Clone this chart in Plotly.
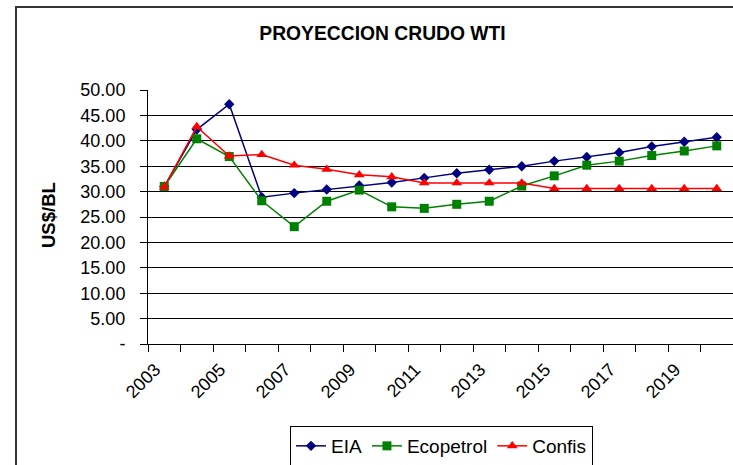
import plotly.graph_objects as go

years = list(range(2003, 2021))
eia = [31.0, 42.2, 47.2, 28.9, 29.7, 30.4, 31.2, 31.8, 32.7, 33.6, 34.3, 35.0, 36.0, 36.8, 37.7, 38.9, 39.8, 40.7]
ecopetrol = [31.0, 40.4, 36.9, 28.2, 23.1, 28.1, 30.3, 27.0, 26.7, 27.5, 28.1, 31.1, 33.1, 35.2, 36.0, 37.1, 38.0, 39.0]
confis = [30.9, 42.8, 37.0, 37.3, 35.2, 34.4, 33.3, 32.9, 31.7, 31.7, 31.7, 31.7, 30.6, 30.6, 30.6, 30.6, 30.6, 30.6]

x_tick_years = list(range(2003, 2020, 2))
x_tick_labels = [str(y) for y in x_tick_years]
y_tick_vals = [0, 5, 10, 15, 20, 25, 30, 35, 40, 45, 50]
y_tick_labels = ["-", "5.00", "10.00", "15.00", "20.00", "25.00", "30.00", "35.00", "40.00", "45.00", "50.00"]

FONT = "Liberation Sans, Arial, sans-serif"

fig = go.Figure()
fig.add_trace(go.Scatter(x=years, y=eia, name="EIA", mode="lines+markers",
                         line=dict(color="#000080", width=1.5),
                         marker=dict(symbol="diamond", size=8, color="#000080")))
fig.add_trace(go.Scatter(x=years, y=ecopetrol, name="Ecopetrol", mode="lines+markers",
                         line=dict(color="#008000", width=1.5),
                         marker=dict(symbol="square", size=9, color="#008000")))
fig.add_trace(go.Scatter(x=years, y=confis, name="Confis", mode="lines+markers",
                         line=dict(color="#FF0000", width=1.5),
                         marker=dict(symbol="triangle-up", size=9.5, color="#FF0000")))

fig.update_layout(
    width=733, height=465,
    margin=dict(l=148, r=0, t=90, b=121, autoexpand=False),
    paper_bgcolor="white", plot_bgcolor="white",
    font=dict(family=FONT, size=18, color="black"),
    title=dict(text="<b>PROYECCION CRUDO WTI</b>", font=dict(family=FONT, size=19.3, color="black"),
               x=382.5 / 733, xanchor="center", xref="container",
               y=1 - 33.5 / 465, yanchor="middle", yref="container"),
    xaxis=dict(range=[2002.5, 2020.5], tickmode="array", tickvals=x_tick_years, ticktext=x_tick_labels,
               tickangle=-45, ticks="outside", ticklen=7, tickcolor="rgba(0,0,0,0)",
               showgrid=False, zeroline=False, showline=True, linecolor="black", linewidth=1,
               automargin=False, ticklabelshift=-9,
               tickfont=dict(family=FONT, size=18, color="black"),
               minor=dict(tick0=2002.5, dtick=1, ticks="outside", ticklen=7, tickcolor="black",
                          tickwidth=1, showgrid=False)),
    yaxis=dict(range=[0, 50], tickmode="array", tickvals=y_tick_vals, ticktext=y_tick_labels,
               ticks="outside", ticklen=7, tickcolor="black", showgrid=True, gridcolor="black",
               gridwidth=1, zeroline=False, showline=True, linecolor="black", linewidth=1,
               automargin=False,
               tickfont=dict(family=FONT, size=18, color="black"), ticklabelstandoff=11),
    legend=dict(orientation="h", x=(441.5 - 148) / 585, xanchor="center",
                y=(344 - 426) / 254, yanchor="top", bordercolor="black", borderwidth=1,
                font=dict(family=FONT, size=19, color="black"), bgcolor="white",
                itemwidth=30),
    showlegend=True,
)

fig.add_annotation(text="<b>US$/BL</b>", textangle=-90, xref="paper", yref="paper",
                   x=(48 - 148) / 585, y=(344 - 215) / 254, xanchor="center", yanchor="middle",
                   showarrow=False, font=dict(family=FONT, size=18.5, color="black"))

# chart border (left and top edges visible)
fig.add_shape(type="line", xref="paper", yref="paper", x0=(16 - 148) / 585, x1=(16 - 148) / 585,
              y0=(344 - 6) / 254, y1=(344 - 470) / 254, line=dict(color="#333333", width=2))
fig.add_shape(type="line", xref="paper", yref="paper", x0=(15 - 148) / 585, x1=(740 - 148) / 585,
              y0=(344 - 7) / 254, y1=(344 - 7) / 254, line=dict(color="#333333", width=2))

fig.write_html("out.html", config={"displayModeBar": False},
               post_script="document.body.style.margin='0';document.body.style.overflow='hidden';")
